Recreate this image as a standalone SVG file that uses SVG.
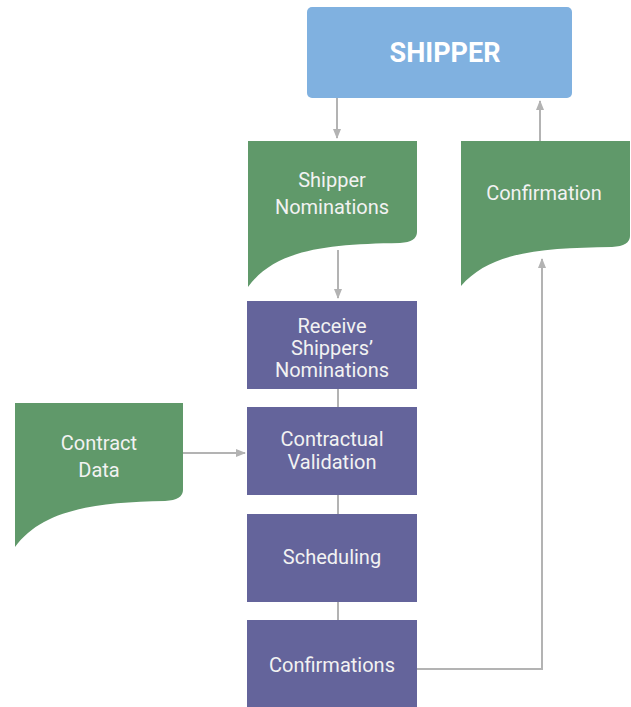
<svg xmlns="http://www.w3.org/2000/svg" width="631" height="707" viewBox="0 0 631 707">
<style>
.doc{fill:#60996a}
.proc{fill:#64649b}
.t{font-family:Roboto,"Liberation Sans",sans-serif;font-size:20px;fill:#f2f2f2;text-anchor:middle}
.c{stroke:#b3b3b3;stroke-width:2;fill:none}
</style>
<defs>
<marker id="a" markerWidth="10" markerHeight="10" refX="9" refY="5" orient="auto" markerUnits="userSpaceOnUse">
<path d="M0,1 L10,5 L0,9 Z" fill="#b3b3b3"/>
</marker>
</defs>
<rect x="0" y="0" width="631" height="707" fill="#ffffff"/>
<g id="connectors">
<line class="c" x1="337" y1="98" x2="337" y2="138" marker-end="url(#a)"/>
<line class="c" x1="540" y1="141" x2="540" y2="101" marker-end="url(#a)"/>
<line class="c" x1="338" y1="250" x2="338" y2="298" marker-end="url(#a)"/>
<line class="c" x1="338" y1="389" x2="338" y2="407"/>
<line class="c" x1="338" y1="495" x2="338" y2="514"/>
<line class="c" x1="338" y1="602" x2="338" y2="620"/>
<line class="c" x1="183" y1="453" x2="245" y2="453" marker-end="url(#a)"/>
<polyline class="c" points="417,669 542,669 542,259" marker-end="url(#a)"/>
</g>
<g id="shipper">
<rect x="307" y="7" width="265" height="91" rx="5" fill="#80b1e0"/>
<text x="445" y="62" font-family="Roboto,'Liberation Sans',sans-serif" font-size="27" font-weight="bold" fill="#ffffff" text-anchor="middle">SHIPPER</text>
</g>
<g id="shipper-nominations">
<path class="doc" d="M248,141 H417 V232 Q417,242 400,243 C325,244 275,250 248,287 Z"/>
<text class="t" x="332" y="187">Shipper</text>
<text class="t" x="332" y="214">Nominations</text>
</g>
<g id="confirmation">
<path class="doc" d="M461,141 H630 V236 Q630,246 612,247 C540,248 490,252 461,286 Z"/>
<text class="t" x="544" y="200">Confirmation</text>
</g>
<g id="contract-data">
<path class="doc" d="M15,403 H183 V490 Q183,500 165,501 C95,502 42,510 15,547 Z"/>
<text class="t" x="99" y="450">Contract</text>
<text class="t" x="99" y="477">Data</text>
</g>
<g id="receive">
<rect class="proc" x="247" y="301" width="170" height="88"/>
<text class="t" x="332" y="333">Receive</text>
<text class="t" x="332" y="355">Shippers’</text>
<text class="t" x="332" y="377">Nominations</text>
</g>
<g id="contractual-validation">
<rect class="proc" x="247" y="407" width="170" height="88"/>
<text class="t" x="332" y="446">Contractual</text>
<text class="t" x="332" y="469">Validation</text>
</g>
<g id="scheduling">
<rect class="proc" x="247" y="514" width="170" height="88"/>
<text class="t" x="332" y="564">Scheduling</text>
</g>
<g id="confirmations">
<rect class="proc" x="247" y="620" width="170" height="90"/>
<text class="t" x="332" y="672">Confirmations</text>
</g>
</svg>
